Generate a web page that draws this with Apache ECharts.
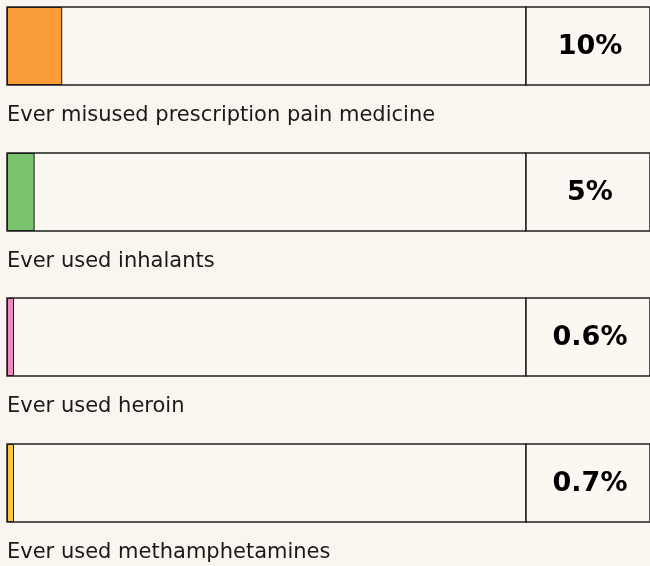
<!DOCTYPE html>
<html>
<head>
<meta charset="utf-8">
<script src="https://cdn.jsdelivr.net/npm/echarts@6/dist/echarts.min.js"></script>
<style>
  html, body { margin: 0; padding: 0; background: #faf5ee; }
  #chart { width: 650px; height: 566px; }
</style>
</head>
<body>
<div id="chart"></div>
<script>
// Share of respondents, in percent
const categories = [
  'Ever misused prescription pain medicine',
  'Ever used inhalants',
  'Ever used heroin',
  'Ever used methamphetamines'
];
const values = [10, 5, 0.6, 0.7];
const valueLabels = ['10%', '5%', '0.6%', '0.7%'];
const barColors = ['#fa9d38', '#79c46d', '#f189be', '#fcc644'];

const rowTop = [7, 153, 298, 444];
const rowHeight = 78;
const barLeft = 7;
const barWidth = 519;
const valueBoxWidth = 128;
const font = '"DejaVu Sans", "Open Sans", sans-serif';

const grid = [], xAxis = [], yAxis = [], series = [], title = [];

categories.forEach((name, i) => {
  // bar track
  grid.push({
    left: barLeft, top: rowTop[i], width: barWidth, height: rowHeight,
    show: true, borderColor: '#222', borderWidth: 1.5, backgroundColor: '#fbf7f1'
  });
  // value box on the right
  grid.push({
    left: barLeft + barWidth, top: rowTop[i], width: valueBoxWidth, height: rowHeight,
    show: true, borderColor: '#222', borderWidth: 1.5, backgroundColor: '#fbf7f1'
  });
  const g = i * 2;
  xAxis.push({ gridIndex: g, type: 'value', min: 0, max: 94, show: false });
  yAxis.push({ gridIndex: g, type: 'category', data: [name], show: false });
  xAxis.push({ gridIndex: g + 1, type: 'value', min: 0, max: 1, show: false });
  yAxis.push({ gridIndex: g + 1, type: 'category', data: [name], show: false });

  series.push({
    type: 'bar',
    xAxisIndex: g, yAxisIndex: g,
    barWidth: '100%',
    barMinHeight: 7,
    silent: true,
    itemStyle: { color: barColors[i], borderColor: '#1a1a1a', borderWidth: 1 },
    data: [values[i]]
  });
  series.push({
    type: 'scatter',
    xAxisIndex: g + 1, yAxisIndex: g + 1,
    symbolSize: 0,
    silent: true,
    itemStyle: { opacity: 1 },
    label: {
      show: true, position: 'inside', offset: [2, 1],
      formatter: () => valueLabels[i],
      fontFamily: font, fontWeight: 'bold', fontSize: 27, color: '#000'
    },
    data: [[0.5, name]]
  });

  title.push({
    text: name,
    left: barLeft, top: rowTop[i] + rowHeight + 20, padding: 0,
    textStyle: { fontFamily: font, fontWeight: 'normal', fontSize: 21, color: '#1a1a1a' }
  });
});

const chart = echarts.init(document.getElementById('chart'), null, { renderer: 'canvas' });
chart.setOption({
  backgroundColor: '#faf5ee',
  animation: false,
  title, grid, xAxis, yAxis, series
});
</script>
</body>
</html>
